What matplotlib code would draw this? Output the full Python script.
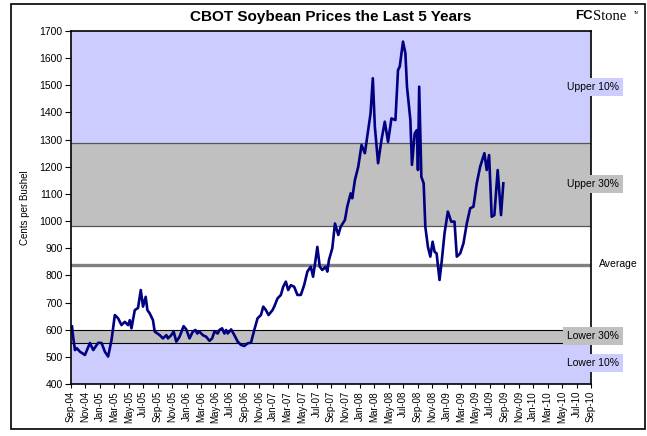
import matplotlib
matplotlib.use("Agg")
import matplotlib.pyplot as plt
from matplotlib.patches import Rectangle

plt.rcParams['font.family'] = ['Liberation Sans', 'DejaVu Sans']

# months since Sep-04 and price in cents per bushel
months = [0.14, 0.32, 0.55, 0.79, 1.24, 1.93, 2.62, 3.08, 3.77, 4.23, 4.69, 5.14,
          5.61, 6.07, 6.52, 6.99, 7.45, 7.90, 8.14, 8.37, 8.83, 9.28, 9.66, 9.97,
          10.34, 10.58, 10.90, 11.35, 11.59, 12.28, 12.73, 13.20, 13.42, 13.89,
          14.21, 14.58, 15.03, 15.59, 15.96, 16.41, 16.87, 17.24, 17.48, 17.79,
          18.25, 18.72, 19.17, 19.54, 19.86, 20.32, 20.55, 20.92, 21.24, 21.48,
          21.70, 22.17, 22.62, 23.08, 23.54, 24.00, 24.46, 24.92, 25.38, 25.83,
          26.30, 26.62, 26.99, 27.35, 27.90, 28.14, 28.59, 29.06, 29.38, 29.75,
          30.07, 30.44, 30.90, 31.35, 31.82, 32.28, 32.73, 33.20, 33.52, 33.79,
          34.11, 34.44, 34.80, 35.27, 35.49, 35.72, 36.18, 36.55, 37.01, 37.34,
          37.93, 38.25, 38.72, 38.94, 39.31, 39.77, 40.23, 40.69, 41.14, 41.48,
          41.79, 42.07, 42.52, 42.99, 43.45, 43.90, 44.37, 44.92, 45.28, 45.52,
          45.97, 46.30, 46.52, 46.99, 47.21, 47.59, 47.90, 48.04, 48.21, 48.51,
          48.83, 49.06, 49.42, 49.75, 50.07, 50.34, 50.62, 51.03, 51.35, 51.72,
          52.18, 52.65, 53.10, 53.42, 53.89, 54.34, 54.80, 55.27, 55.72, 56.18,
          56.65, 57.24, 57.56, 57.89, 58.25, 58.62, 59.08, 59.54, 59.86]
prices = [612, 568, 525, 532, 519, 507, 551, 525, 552, 551, 519, 501,
          562, 654, 642, 617, 629, 617, 635, 605, 672, 680, 746, 685,
          721, 672, 660, 635, 593, 580, 568, 580, 568, 580,
          593, 556, 574, 613, 601, 568, 593, 599, 586, 593,
          580, 574, 559, 568, 593, 586, 599, 605, 586, 599,
          586, 601, 580, 556, 544, 540, 550, 552, 599, 642,
          654, 685, 672, 654, 672, 685, 715, 728, 758, 777,
          746, 764, 758, 728, 728, 764, 814, 832, 795, 844,
          905, 832, 820, 832, 814, 857, 900, 991, 949, 979,
          1004, 1053, 1102, 1084, 1151, 1200, 1280, 1250, 1335, 1397,
          1526, 1348, 1213, 1299, 1366, 1292, 1378, 1372, 1556, 1569,
          1661, 1618, 1495, 1372, 1207, 1323, 1335, 1188, 1495, 1163,
          1139, 979, 905, 869, 924, 887, 881, 783, 857, 955,
          1035, 998, 998, 869, 881, 918, 991, 1047, 1053, 1139,
          1200, 1250, 1188, 1243, 1016, 1022, 1188, 1022, 1139]

# percentile bands
upper10 = 1289
upper30 = 983
average = 838
lower30 = 600
lower10 = 550

month_names = ['Sep', 'Nov', 'Jan', 'Mar', 'May', 'Jul']
tick_labels = []
for i in range(37):
    m = i * 2
    yr = 4 + (8 + m) // 12
    tick_labels.append('%s-%02d' % (month_names[i % 6], yr))

W, H = 647, 436
fig = plt.figure(figsize=(W / 100, H / 100), dpi=100)
ax = fig.add_axes([71 / W, 1 - 384 / H, 520 / W, 353 / H])

blue = '#CCCCFF'
grey = '#C0C0C0'
ax.axhspan(upper10, 1700, color=blue, lw=0)
ax.axhspan(upper30, upper10, color=grey, lw=0)
ax.axhspan(400, lower10, color=blue, lw=0)
ax.axhspan(lower10, lower30, color=grey, lw=0)
for v in (upper10, upper30):
    ax.axhline(v, color='#555555', lw=0.9)
for v in (lower30, lower10):
    ax.axhline(v, color='black', lw=0.8)
ax.axhline(average, color='#808080', lw=2.4)

ax.plot(months, prices, color='#000080', lw=1.9, solid_joinstyle='round')

ax.set_xlim(0, 72)
ax.set_ylim(400, 1700)
ax.set_yticks(range(400, 1701, 100))
ax.set_xticks(range(0, 73, 2))
ax.set_xticklabels(tick_labels, rotation=90, fontsize=7)
ax.tick_params(axis='y', labelsize=7.5, length=4, width=0.8, pad=2)
ax.tick_params(axis='x', length=3, width=0.8, pad=2)
for s in ax.spines.values():
    s.set_linewidth(1.2)
ax.set_ylabel('Cents per Bushel', fontsize=7, labelpad=7)

# band labels on the right
lab_kw = dict(transform=ax.get_yaxis_transform(), fontsize=7.5, va='center')
ax.text(1.004, 1494, 'Upper 10%', ha='center',
        bbox=dict(facecolor=blue, edgecolor='none', pad=3), **lab_kw)
ax.text(1.004, 1136, 'Upper 30%', ha='center',
        bbox=dict(facecolor=grey, edgecolor='none', pad=3), **lab_kw)
ax.text(1.015, 842, 'Average', ha='left', **lab_kw)
ax.text(1.004, 577, 'Lower 30%', ha='center',
        bbox=dict(facecolor=grey, edgecolor='none', pad=3), **lab_kw)
ax.text(1.004, 477, 'Lower 10%', ha='center',
        bbox=dict(facecolor=blue, edgecolor='none', pad=3), **lab_kw)

fig.text(331 / W, 1 - 17 / H, 'CBOT Soybean Prices the Last 5 Years',
         ha='center', va='center', fontsize=11, fontweight='bold')
# logo
fig.text(593 / W, 1 - 16 / H, 'FC', ha='right', va='center', fontsize=9.5,
         fontweight='bold')
fig.text(593 / W, 1 - 16 / H, 'Stone', ha='left', va='center', fontsize=10.5,
         family='Liberation Serif')
fig.text(634 / W, 1 - 13 / H, 'TM', ha='left', va='center', fontsize=2.5)

fig.patches.append(Rectangle((11 / W, 1 - 429 / H), 634 / W, 425 / H,
                             transform=fig.transFigure, fill=False,
                             edgecolor='black', lw=1.2))

fig.savefig('out.png', dpi=100)
